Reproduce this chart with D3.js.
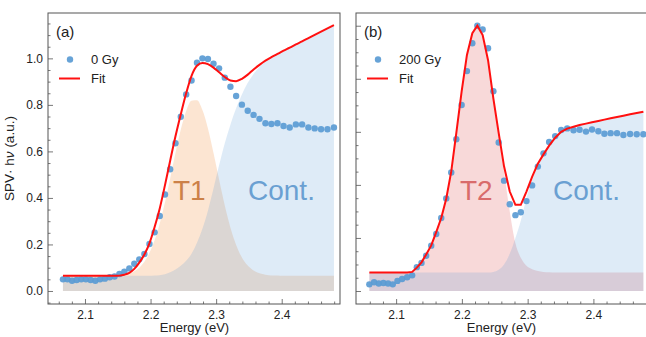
<!DOCTYPE html>
<html>
<head>
<meta charset="utf-8">
<script src="https://cdn.jsdelivr.net/npm/d3@7"></script>
<style>
  html, body { margin: 0; padding: 0; background: #fff; }
  svg { display: block; font-family: "Liberation Sans", Arial, sans-serif; }
</style>
</head>
<body>
<svg id="chart" width="646" height="337"></svg>
<script>
// ---------- DATA ----------
const energyA = [2.0664,2.0733,2.0803,2.0873,2.0943,2.1014,2.1086,2.1158,2.1230,2.1303,2.1377,2.1451,2.1525,2.1600,2.1676,2.1752,2.1828,2.1906,2.1983,2.2062,2.2140,2.2220,2.2299,2.2380,2.2461,2.2543,2.2625,2.2708,2.2791,2.2875,2.2960,2.3045,2.3132,2.3218,2.3305,2.3393,2.3482,2.3571,2.3661,2.3752,2.3843,2.3935,2.4028,2.4122,2.4216,2.4311,2.4407,2.4503,2.4600,2.4698,2.4797];
const spvA = [0.050,0.050,0.044,0.047,0.050,0.050,0.047,0.044,0.050,0.053,0.059,0.062,0.073,0.083,0.097,0.117,0.136,0.159,0.202,0.252,0.322,0.415,0.523,0.635,0.749,0.845,0.905,0.981,1.000,0.997,0.977,0.957,0.917,0.878,0.838,0.801,0.775,0.757,0.740,0.721,0.718,0.721,0.709,0.703,0.716,0.716,0.703,0.699,0.695,0.695,0.703];
const fitA = [0.065,0.065,0.065,0.065,0.065,0.065,0.065,0.065,0.065,0.065,0.065,0.065,0.066,0.070,0.078,0.095,0.122,0.157,0.205,0.275,0.355,0.455,0.560,0.665,0.760,0.850,0.925,0.968,0.980,0.975,0.960,0.940,0.920,0.905,0.902,0.912,0.930,0.952,0.972,0.990,1.005,1.019,1.033,1.046,1.060,1.073,1.087,1.101,1.115,1.129,1.143];
const t1A = [0.065,0.065,0.065,0.065,0.065,0.065,0.065,0.065,0.065,0.065,0.065,0.066,0.068,0.070,0.076,0.085,0.100,0.126,0.164,0.218,0.290,0.381,0.484,0.593,0.694,0.774,0.818,0.820,0.778,0.699,0.593,0.479,0.367,0.272,0.198,0.144,0.109,0.088,0.076,0.070,0.067,0.066,0.065,0.065,0.065,0.065,0.065,0.065,0.065,0.065,0.065];
const contA = [0.065,0.065,0.065,0.065,0.065,0.065,0.065,0.065,0.065,0.065,0.065,0.065,0.065,0.065,0.065,0.065,0.065,0.065,0.065,0.066,0.068,0.072,0.080,0.092,0.108,0.130,0.160,0.207,0.267,0.345,0.440,0.540,0.635,0.715,0.785,0.845,0.895,0.933,0.963,0.988,1.005,1.019,1.033,1.046,1.060,1.073,1.087,1.101,1.115,1.129,1.143];

const energyB = [2.0593,2.0665,2.0736,2.0807,2.0878,2.0949,2.1020,2.1091,2.1168,2.1244,2.1315,2.1386,2.1457,2.1534,2.1610,2.1686,2.1762,2.1838,2.1915,2.1996,2.2077,2.2159,2.2235,2.2316,2.2398,2.2479,2.2560,2.2641,2.2728,2.2814,2.2896,2.2982,2.3068,2.3155,2.3241,2.3327,2.3419,2.3510,2.3602,2.3698,2.3790,2.3887,2.3979,2.4075,2.4167,2.4262,2.4359,2.4456,2.4558,2.4659,2.4760];
const spvB = [0.025,0.033,0.028,0.030,0.028,0.025,0.038,0.045,0.052,0.059,0.090,0.106,0.133,0.171,0.215,0.275,0.349,0.447,0.572,0.701,0.829,0.934,1.000,0.986,0.915,0.753,0.560,0.416,0.327,0.286,0.297,0.339,0.398,0.469,0.519,0.562,0.584,0.607,0.613,0.606,0.608,0.601,0.609,0.602,0.593,0.595,0.595,0.588,0.592,0.591,0.591];
const fitB = [0.070,0.070,0.070,0.070,0.070,0.070,0.070,0.070,0.070,0.072,0.088,0.108,0.138,0.172,0.222,0.275,0.348,0.450,0.595,0.752,0.890,0.972,1.000,0.965,0.870,0.725,0.595,0.470,0.375,0.325,0.325,0.375,0.430,0.480,0.515,0.548,0.578,0.600,0.612,0.619,0.626,0.631,0.636,0.641,0.646,0.651,0.656,0.661,0.666,0.671,0.676];
const t2B = [0.070,0.070,0.070,0.070,0.070,0.070,0.070,0.070,0.070,0.072,0.088,0.108,0.138,0.172,0.222,0.275,0.348,0.450,0.595,0.752,0.890,0.972,1.000,0.965,0.870,0.725,0.585,0.450,0.300,0.180,0.125,0.095,0.082,0.075,0.072,0.071,0.070,0.070,0.070,0.070,0.070,0.070,0.070,0.070,0.070,0.070,0.070,0.070,0.070,0.070,0.070];
const contB = [0.070,0.070,0.070,0.070,0.070,0.070,0.070,0.070,0.070,0.070,0.070,0.070,0.070,0.070,0.070,0.070,0.070,0.070,0.070,0.070,0.070,0.070,0.070,0.070,0.070,0.072,0.080,0.100,0.140,0.200,0.265,0.350,0.418,0.475,0.513,0.547,0.578,0.600,0.612,0.619,0.626,0.631,0.636,0.641,0.646,0.651,0.656,0.661,0.666,0.671,0.676];

const xTicks = [2.1, 2.2, 2.3, 2.4];
const xTickLabels = ["2.1", "2.2", "2.3", "2.4"];
const xMinorTicks = [2.06,2.08,2.12,2.14,2.16,2.18,2.22,2.24,2.26,2.28,2.32,2.34,2.36,2.38,2.42,2.44,2.46,2.48];
const yTicks = [0.0, 0.2, 0.4, 0.6, 0.8, 1.0];
const yTickLabels = ["0.0", "0.2", "0.4", "0.6", "0.8", "1.0"];
const yMinorTicks = [-0.05,0.05,0.1,0.15,0.25,0.3,0.35,0.45,0.5,0.55,0.65,0.7,0.75,0.85,0.9,0.95,1.05,1.1,1.15];

const panelLabels = ["(a)", "(b)"];
const seriesNames = ["0 Gy", "200 Gy"];
const fitName = "Fit";
const peakNames = ["T1", "T2"];
const contName = "Cont.";
const xTitle = "Energy (eV)";

// ---------- STYLE ----------
const C = {
  dot: "#5a9bd4",
  fit: "#ff1010",
  cont: "#5b9bd5",
  t1: "#f4a96a",
  t2: "#e06060",
  t1Text: "#cc8148",
  t2Text: "#d96b6b",
  contText: "#6aa0d2",
  axis: "#555"
};

const svg = d3.select("#chart");

const panels = [
  { L: 48, R: 340, T: 13, B: 304, xd: [2.0436, 2.4889], yd: [-0.056, 1.195],
    E: energyA, spv: spvA, fit: fitA, peak: t1A, cont: contA,
    peakColor: C.t1, peakOpacity: 0.30, peakText: C.t1Text, showYLabels: true,
    curve: d3.curveMonotoneX, labelPos: [173, 200], contPos: [248, 200] },
  { L: 356, R: 647, T: 13, B: 304, xd: [2.039, 2.4815], yd: [-0.049, 1.048],
    E: energyB, spv: spvB, fit: fitB, peak: t2B, cont: contB,
    peakColor: C.t2, peakOpacity: 0.24, peakText: C.t2Text, showYLabels: false,
    curve: d3.curveLinear, labelPos: [460, 200], contPos: [553, 200] }
];

panels.forEach((p, i) => {
  const x = d3.scaleLinear().domain(p.xd).range([p.L, p.R]);
  const y = d3.scaleLinear().domain(p.yd).range([p.B, p.T]);
  const g = svg.append("g");

  const clipId = "clip" + i;
  svg.append("defs").append("clipPath").attr("id", clipId)
    .append("rect").attr("x", p.L).attr("y", p.T).attr("width", p.R - p.L).attr("height", p.B - p.T);
  const plot = g.append("g").attr("clip-path", `url(#${clipId})`);

  const idx = d3.range(p.E.length);
  const area = arr => d3.area().x(k => x(p.E[k])).y0(y(0)).y1(k => y(arr[k])).curve(d3.curveMonotoneX);

  // component fills
  plot.append("path").datum(idx).attr("d", area(p.peak))
    .attr("fill", p.peakColor).attr("fill-opacity", p.peakOpacity);
  plot.append("path").datum(idx).attr("d", area(p.cont))
    .attr("fill", C.cont).attr("fill-opacity", 0.2);

  // component labels
  g.append("text").attr("x", p.labelPos[0]).attr("y", p.labelPos[1])
    .attr("font-size", 28).attr("fill", p.peakText).text(peakNames[i]);
  g.append("text").attr("x", p.contPos[0]).attr("y", p.contPos[1])
    .attr("font-size", 28).attr("fill", C.contText).text(contName);

  // data points
  plot.append("g").selectAll("circle").data(idx).join("circle")
    .attr("cx", k => x(p.E[k])).attr("cy", k => y(p.spv[k])).attr("r", 3.2)
    .attr("fill", C.dot).attr("fill-opacity", 0.92);

  // fit line
  plot.append("path").datum(idx)
    .attr("d", d3.line().x(k => x(p.E[k])).y(k => y(p.fit[k])).curve(p.curve))
    .attr("fill", "none").attr("stroke", C.fit).attr("stroke-width", 2);

  // axes (ticks inward)
  const xAxis = d3.axisBottom(x).tickValues(xTicks).tickFormat((d, j) => xTickLabels[j])
    .tickSizeInner(-5).tickSizeOuter(0).tickPadding(6);
  const gx = g.append("g").attr("transform", `translate(0,${p.B})`).call(xAxis);
  const xMinor = d3.axisBottom(x).tickValues(xMinorTicks.filter(v => v > p.xd[0] && v < p.xd[1]))
    .tickFormat("").tickSizeInner(-2.5).tickSizeOuter(0);
  const gxm = g.append("g").attr("transform", `translate(0,${p.B})`).call(xMinor);

  const yAxis = d3.axisLeft(y).tickValues(yTicks)
    .tickFormat((d, j) => p.showYLabels ? yTickLabels[j] : "")
    .tickSizeInner(-5).tickSizeOuter(0).tickPadding(5);
  const gy = g.append("g").attr("transform", `translate(${p.L},0)`).call(yAxis);
  const yMinor = d3.axisLeft(y).tickValues(yMinorTicks.filter(v => v > p.yd[0] && v < p.yd[1]))
    .tickFormat("").tickSizeInner(-2.5).tickSizeOuter(0);
  const gym = g.append("g").attr("transform", `translate(${p.L},0)`).call(yMinor);

  [gx, gxm, gy, gym].forEach(a => {
    a.select(".domain").remove();
    a.selectAll("line").attr("stroke", C.axis).attr("stroke-width", 0.8);
    a.selectAll("text").attr("font-size", 12).attr("fill", "#222")
      .attr("font-family", "'Liberation Sans', Arial, sans-serif");
  });

  // frame
  g.append("rect").attr("x", p.L).attr("y", p.T).attr("width", p.R - p.L).attr("height", p.B - p.T)
    .attr("fill", "none").attr("stroke", C.axis).attr("stroke-width", 1);

  // panel label
  g.append("text").attr("x", p.L + 8).attr("y", 37).attr("font-size", 15).attr("fill", "#222").text(panelLabels[i]);

  // legend
  const lx = p.L + 22;
  g.append("circle").attr("cx", lx).attr("cy", 59.5).attr("r", 3.2).attr("fill", C.dot).attr("fill-opacity", 0.92);
  g.append("text").attr("x", p.L + 43).attr("y", 64).attr("font-size", 13).attr("fill", "#222").text(seriesNames[i]);
  g.append("line").attr("x1", p.L + 11).attr("x2", p.L + 32).attr("y1", 78.5).attr("y2", 78.5)
    .attr("stroke", C.fit).attr("stroke-width", 2);
  g.append("text").attr("x", p.L + 43).attr("y", 83).attr("font-size", 13).attr("fill", "#222").text(fitName);

  // x title
  g.append("text").attr("x", (p.L + Math.min(p.R, 646)) / 2 + 0.5).attr("y", 332)
    .attr("text-anchor", "middle").attr("font-size", 13).attr("fill", "#222").text(xTitle);
});

// y title
const yt = svg.append("text").attr("transform", "translate(14,158.5) rotate(-90)")
  .attr("text-anchor", "middle").attr("font-size", 13.5).attr("fill", "#222");
yt.append("tspan").text("SPV· h");
yt.append("tspan").attr("font-style", "italic").text("ν");
yt.append("tspan").text(" (a.u.)");
</script>
</body>
</html>
